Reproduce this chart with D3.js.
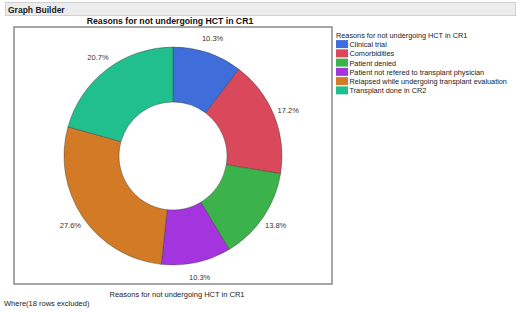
<!DOCTYPE html>
<html>
<head>
<meta charset="utf-8">
<script src="https://cdn.jsdelivr.net/npm/d3@7"></script>
<style>
  body { margin: 0; background: #fff; }
  text { font-family: "Liberation Sans", Arial, sans-serif; }
</style>
</head>
<body>
<div id="chart"></div>
<script>
// data (counts out of 29)
const categories = ["Clinical trial", "Comorbidities", "Patient denied",
    "Patient not refered to transplant physician",
    "Relapsed while undergoing transplant evaluation", "Transplant done in CR2"];
const counts = [3, 5, 4, 3, 8, 6];
const colors = ["#3f6edb", "#d9495b", "#3bb34a", "#a434dd", "#d27a26", "#22bf8e"];
const titleText = "Reasons for not undergoing HCT in CR1";

function init() {
    const W = 520, H = 312;
    const svg = d3.select("#chart").append("svg")
        .attr("width", W).attr("height", H);

    // header bar
    svg.append("rect")
        .attr("x", 5.5).attr("y", 2.5).attr("width", 510).attr("height", 13)
        .attr("fill", "#ececec").attr("stroke", "#d0d0d0");
    svg.append("text")
        .attr("x", 8).attr("y", 12.5)
        .style("font-size", "8.5px").style("font-weight", "bold").attr("fill", "#222")
        .text("Graph Builder");

    // graph frame
    const frame = { x: 14, y: 27, w: 318, h: 257 };
    svg.append("rect")
        .attr("x", frame.x).attr("y", frame.y).attr("width", frame.w).attr("height", frame.h)
        .attr("fill", "#fff").attr("stroke", "#8a8a8a").attr("stroke-width", 1.5);

    svg.append("text")
        .attr("x", 170).attr("y", 23.5).attr("text-anchor", "middle")
        .style("font-size", "8.7px").style("font-weight", "bold").attr("fill", "#111")
        .text(titleText);

    // donut
    const cx = 173, cy = 156, R = 109, r = 54;
    const total = d3.sum(counts);
    const pie = d3.pie().sort(null).value(d => d)(counts);
    const arc = d3.arc().innerRadius(r).outerRadius(R);
    const labelArc = d3.arc().innerRadius(124).outerRadius(124);

    const g = svg.append("g").attr("transform", `translate(${cx},${cy})`);
    g.selectAll("path")
        .data(pie)
        .enter()
        .append("path")
        .attr("d", arc)
        .attr("fill", (d, i) => colors[i])
        .attr("stroke", "#3a3a3a").attr("stroke-width", 0.6).attr("stroke-opacity", 0.7);

    g.selectAll(".lbl")
        .data(pie)
        .enter()
        .append("text")
        .attr("transform", d => `translate(${labelArc.centroid(d)})`)
        .attr("text-anchor", "middle").attr("dy", "0.35em")
        .style("font-size", "7.5px").attr("fill", "#333")
        .text(d => (d.value / total * 100).toFixed(1) + "%");

    // axis title + footnote
    svg.append("text")
        .attr("x", 177).attr("y", 297).attr("text-anchor", "middle")
        .style("font-size", "7.5px").attr("fill", "#222")
        .text(titleText);
    svg.append("text")
        .attr("x", 4).attr("y", 306)
        .style("font-size", "7.5px").attr("fill", "#222")
        .text("Where(18 rows excluded)");

    // legend
    const legend = svg.append("g").attr("transform", "translate(336,0)");
    legend.append("text")
        .attr("x", 0).attr("y", 38)
        .style("font-size", "7.3px").attr("fill", "#222")
        .text(titleText);
    const y = d3.scaleBand().domain(categories).range([39.5, 95]);
    const rows = legend.selectAll(".row")
        .data(categories)
        .enter()
        .append("g")
        .attr("transform", d => `translate(0,${y(d)})`);
    rows.append("rect")
        .attr("x", 0).attr("y", 0.6).attr("width", 12).attr("height", 8)
        .attr("fill", (d, i) => colors[i]);
    rows.append("text")
        .attr("x", 13.5).attr("y", 7.5)
        .style("font-size", "7.3px").attr("fill", "#222")
        .text(d => d);
}

window.onload = init;
</script>
</body>
</html>
